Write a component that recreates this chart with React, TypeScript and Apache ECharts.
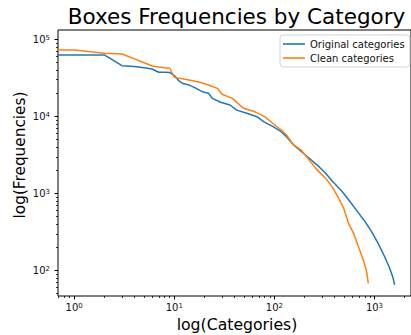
import { useEffect, useRef } from "react";
import * as echarts from "echarts";

// Rank (0-based, as in the original plot) and frequency of each category
const originalRanks = [0, 1, 2, 3, 4, 5, 6, 7, 8, 9, 10, 11, 12, 14, 16, 19, 22, 24, 29, 36, 42, 53, 67, 78, 97, 117, 132, 156, 178, 223, 279, 325, 378, 475, 551, 666, 805, 936, 1087, 1265, 1416, 1527, 1588];
const originalCounts = [63000, 63000, 63000, 45700, 44600, 43000, 41400, 37500, 37400, 37200, 34000, 29500, 27000, 25700, 23700, 21000, 20000, 17200, 15300, 14100, 12100, 11000, 9940, 8560, 7370, 6350, 5470, 4270, 3670, 2870, 2230, 1830, 1450, 1060, 830, 600, 431, 319, 225, 151, 108, 82, 65];

const cleanRanks = [0, 1, 2, 3, 4, 5, 6, 7, 8, 9, 10, 12, 14, 18, 23, 27, 30, 38, 49, 64, 80, 101, 117, 132, 156, 185, 223, 259, 325, 378, 440, 492, 551, 618, 692, 774, 836, 867];
const cleanCounts = [73100, 73100, 66200, 64900, 56000, 49800, 45300, 44000, 43000, 42300, 32400, 30800, 29800, 27800, 25100, 23200, 19400, 17200, 12800, 11500, 9940, 7760, 6680, 5750, 4270, 3670, 2720, 2120, 1570, 1220, 866, 643, 410, 304, 204, 137, 96, 68];

const seriesNames = ["Original categories", "Clean categories"];
const xMajorTicks = [1, 10, 100, 1000];
const xMinorTicks = [0.7, 0.8, 0.9, 2, 3, 4, 5, 6, 7, 8, 9, 20, 30, 40, 50, 60, 70, 80, 90, 200, 300, 400, 500, 600, 700, 800, 900, 2000];
const yMajorTicks = [100, 1000, 10000, 100000];
const yMinorTicks = [50, 60, 70, 80, 90, 200, 300, 400, 500, 600, 700, 800, 900, 2000, 3000, 4000, 5000, 6000, 7000, 8000, 9000, 20000, 30000, 40000, 50000, 60000, 70000, 80000, 90000];

const X_MIN = Math.pow(10, -0.162);
const X_MAX = Math.pow(10, 3.365);
const Y_MIN = Math.pow(10, 1.669);
const Y_MAX = Math.pow(10, 5.123);

const FONT = "DejaVu Sans";

const supRich = {
  b: { fontSize: 10, lineHeight: 10, verticalAlign: "bottom" as const, fontFamily: FONT, color: "#111" },
  s: { fontSize: 7, lineHeight: 7, verticalAlign: "top" as const, padding: [0, 0, 4, 0], fontFamily: FONT, color: "#111" },
};

function powLabel(v: number) {
  const e = Math.round(Math.log10(v));
  return "{b|10}{s|" + e + "}";
}

export default function App() {
  const ref = useRef<HTMLDivElement>(null);
  useEffect(() => {
    if (!ref.current) return;
    const chart = echarts.init(ref.current, undefined, { renderer: "svg" });
    const toPoints = (ranks: number[], counts: number[]) =>
      ranks.map((r, i) => [Math.max(r, 1e-3), counts[i]]);
    const grid = { left: 58, top: 30, width: 358.6, height: 266, show: true, borderColor: "#000", borderWidth: 1, backgroundColor: "transparent" };
    const option: any = {
      animation: false,
      grid,
      textStyle: { fontFamily: FONT },
      legend: {
        orient: "vertical",
        left: 280,
        top: 35,
        padding: [3, 5, 3, 3],
        itemGap: 2,
        itemWidth: 22,
        itemHeight: 1.6,
        backgroundColor: "rgba(255,255,255,0.8)",
        borderColor: "#d3d3d3",
        borderWidth: 1,
        borderRadius: 3,
        textStyle: { fontSize: 10, lineHeight: 12, color: "#111", fontFamily: FONT },
        data: seriesNames.map((n) => ({ name: n, icon: "rect" })),
      },
      xAxis: [
        {
          type: "log",
          logBase: 10,
          min: X_MIN,
          max: X_MAX,
          position: "bottom",
          axisLine: { show: false },
          splitLine: { show: false },
          axisTick: { show: true, length: 3.5, lineStyle: { color: "#000", width: 1 }, customValues: xMajorTicks },
          axisLabel: { show: true, margin: 6, customValues: xMajorTicks, formatter: powLabel, rich: supRich },
        },
        {
          type: "log",
          logBase: 10,
          min: X_MIN,
          max: X_MAX,
          position: "bottom",
          axisLine: { show: false },
          splitLine: { show: false },
          axisTick: { show: true, length: 2, lineStyle: { color: "#000", width: 0.8 }, customValues: xMinorTicks },
          axisLabel: { show: false },
        },
      ],
      yAxis: [
        {
          type: "log",
          logBase: 10,
          min: Y_MIN,
          max: Y_MAX,
          position: "left",
          axisLine: { show: false },
          splitLine: { show: false },
          axisTick: { show: true, length: 3.5, lineStyle: { color: "#000", width: 1 }, customValues: yMajorTicks },
          axisLabel: { show: true, margin: 8, customValues: yMajorTicks, formatter: powLabel, rich: supRich },
        },
        {
          type: "log",
          logBase: 10,
          min: Y_MIN,
          max: Y_MAX,
          position: "left",
          axisLine: { show: false },
          splitLine: { show: false },
          axisTick: { show: true, length: 2, lineStyle: { color: "#000", width: 0.8 }, customValues: yMinorTicks },
          axisLabel: { show: false },
        },
      ],
      series: [
        {
          name: seriesNames[0],
          type: "line",
          xAxisIndex: 0,
          yAxisIndex: 0,
          data: toPoints(originalRanks, originalCounts),
          showSymbol: false,
          symbol: "none",
          clip: true,
          color: "#1f77b4",
          lineStyle: { width: 1.5, color: "#1f77b4" },
          itemStyle: { color: "#1f77b4" },
        },
        {
          name: seriesNames[1],
          type: "line",
          xAxisIndex: 0,
          yAxisIndex: 0,
          data: toPoints(cleanRanks, cleanCounts),
          showSymbol: false,
          symbol: "none",
          clip: true,
          color: "#ff7f0e",
          lineStyle: { width: 1.5, color: "#ff7f0e" },
          itemStyle: { color: "#ff7f0e" },
        },
      ],
      graphic: [
        {
          type: "text",
          x: 236.5,
          y: 16,
          style: { text: "Boxes Frequencies by Category", fontSize: 21.5, fontFamily: FONT, fill: "#000", textAlign: "center", textVerticalAlign: "middle" },
        },
        {
          type: "text",
          x: 237,
          y: 324.6,
          style: { text: "log(Categories)", fontSize: 15.7, fontFamily: FONT, fill: "#000", textAlign: "center", textVerticalAlign: "middle" },
        },
        {
          type: "text",
          x: 20,
          y: 155,
          rotation: Math.PI / 2,
          style: { text: "log(Frequencies)", fontSize: 15.3, fontFamily: FONT, fill: "#000", textAlign: "center", textVerticalAlign: "middle" },
        },
      ],
    };
    chart.setOption(option);
    return () => chart.dispose();
  }, []);
  return (
    <div
      ref={ref}
      style={{ position: "fixed", left: 0, top: 0, width: 411, height: 335, overflow: "hidden", background: "#fff" }}
    />
  );
}
